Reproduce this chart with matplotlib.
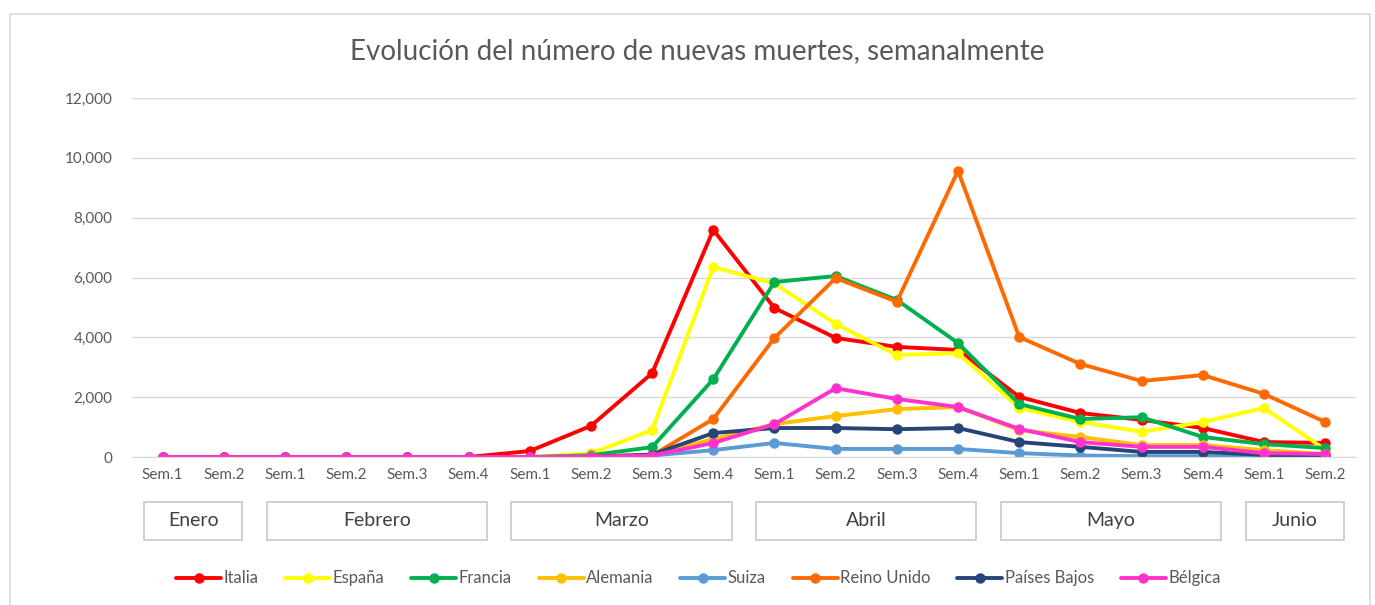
import matplotlib
matplotlib.use('Agg')
import matplotlib.pyplot as plt
from matplotlib.patches import Rectangle
from matplotlib.transforms import blended_transform_factory

plt.rcParams['font.family'] = ['Lato', 'DejaVu Sans']

semanas = ['Sem.1', 'Sem.2',
           'Sem.1', 'Sem.2', 'Sem.3', 'Sem.4',
           'Sem.1', 'Sem.2', 'Sem.3', 'Sem.4',
           'Sem.1', 'Sem.2', 'Sem.3', 'Sem.4',
           'Sem.1', 'Sem.2', 'Sem.3', 'Sem.4',
           'Sem.1', 'Sem.2']
meses = ['Enero', 'Febrero', 'Marzo', 'Abril', 'Mayo', 'Junio']
semanas_por_mes = [2, 4, 4, 4, 4, 2]

italia = [0, 0, 0, 0, 0, 0, 200, 1040, 2800, 7590, 4980, 3980, 3680, 3580, 2010, 1470, 1240, 970, 500, 470]
espana = [0, 0, 0, 0, 0, 0, 0, 120, 900, 6350, 5800, 4450, 3410, 3470, 1640, 1170, 840, 1170, 1640, 250]
francia = [0, 0, 0, 0, 0, 0, 0, 60, 330, 2600, 5850, 6050, 5250, 3810, 1770, 1270, 1330, 670, 430, 300]
alemania = [0, 0, 0, 0, 0, 0, 0, 20, 80, 600, 1100, 1370, 1600, 1670, 900, 670, 400, 400, 230, 100]
suiza = [0, 0, 0, 0, 0, 0, 0, 10, 50, 230, 470, 270, 270, 270, 130, 50, 30, 30, 20, 20]
reino_unido = [0, 0, 0, 0, 0, 0, 0, 10, 50, 1270, 3980, 5980, 5190, 9570, 4010, 3110, 2540, 2740, 2110, 1170]
paises_bajos = [0, 0, 0, 0, 0, 0, 0, 10, 80, 800, 970, 970, 930, 970, 500, 340, 170, 170, 70, 70]
belgica = [0, 0, 0, 0, 0, 0, 0, 10, 50, 470, 1100, 2300, 1940, 1670, 940, 500, 340, 340, 130, 100]

series = [('Italia', italia, '#FF0000'),
          ('España', espana, '#FFFF00'),
          ('Francia', francia, '#00B050'),
          ('Alemania', alemania, '#FFC000'),
          ('Suiza', suiza, '#5B9BD5'),
          ('Reino Unido', reino_unido, '#FF6A00'),
          ('Países Bajos', paises_bajos, '#264478'),
          ('Bélgica', belgica, '#FF33CC')]

fig = plt.figure(figsize=(13.75, 6.05), dpi=100)
ax = fig.add_axes([0.096, 0.2446, 0.890, 0.5934])

x = list(range(len(semanas)))
for nombre, vals, color in series:
    ax.plot(x, vals, color=color, lw=2.8, marker='o', ms=6.5, label=nombre,
            solid_capstyle='round')

ax.set_xlim(-0.5, len(semanas) - 0.5)
ax.set_ylim(0, 12000)
ax.set_yticks(range(0, 12001, 2000))
ax.set_yticklabels(['{:,}'.format(v) for v in range(0, 12001, 2000)])
ax.set_xticks(x)
ax.set_xticklabels(semanas)
ax.tick_params(axis='both', length=0, colors='#595959', labelsize=11)
ax.tick_params(axis='x', pad=8)
ax.tick_params(axis='y', pad=14)
ax.grid(axis='y', color='#D9D9D9', lw=1)
ax.set_axisbelow(True)
for s in ['top', 'right', 'left']:
    ax.spines[s].set_visible(False)
ax.spines['bottom'].set_color('#D9D9D9')

fig.text(0.507, 0.915, 'Evolución del número de nuevas muertes, semanalmente',
         ha='center', va='center', fontsize=20, color='#595959')

# month boxes under the week labels
tr = blended_transform_factory(ax.transData, fig.transFigure)
inicio = 0
for mes, n in zip(meses, semanas_por_mes):
    x0 = inicio - 0.3
    x1 = inicio + n - 1 + 0.3
    ax.add_patch(Rectangle((x0, 0.107), x1 - x0, 0.063, transform=tr,
                           fill=False, edgecolor='#C8C8C8', lw=1.2, clip_on=False))
    ax.text((x0 + x1) / 2, 0.139, mes, transform=tr, ha='center', va='center',
            fontsize=14, color='#404040')
    inicio += n

fig.patches.append(Rectangle((10 / 1375, -0.01), 1360 / 1375, (605 - 14) / 605 + 0.01,
                             transform=fig.transFigure, fill=False,
                             edgecolor='#D9D9D9', lw=1.2))

leg = fig.legend(loc='center', bbox_to_anchor=(0.508, 0.044), ncol=8, frameon=False,
                 fontsize=12, handlelength=2.7, handletextpad=0.15, columnspacing=1.6)
for t in leg.get_texts():
    t.set_color('#595959')

fig.savefig('out.png', dpi=100)
